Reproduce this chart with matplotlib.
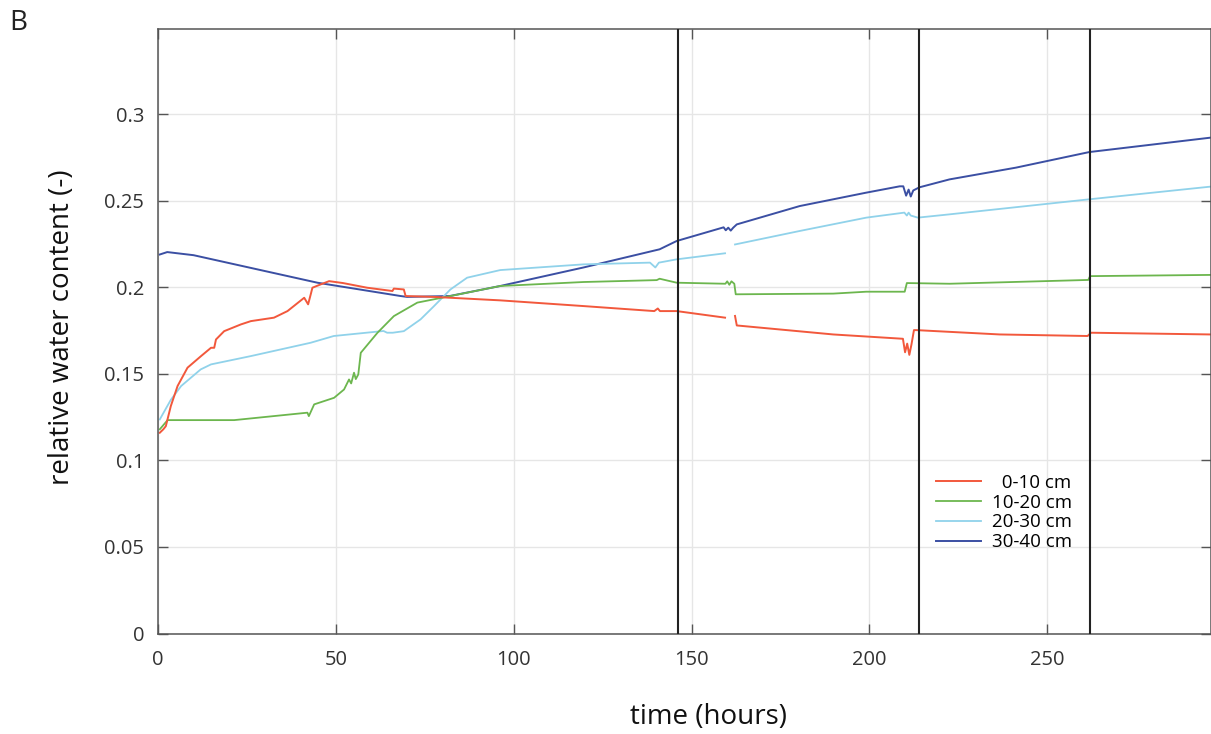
import numpy as np
from matplotlib import pyplot as plt

plt.rcParams["font.family"] = ["Open Sans", "DejaVu Sans"]

nan = np.nan

# time (hours) and relative water content
t_0_10 = [0.5, 1.5, 2.2, 3.6, 5.5, 8.3, 12.1, 14.9, 15.8, 16.3, 18.6, 23.3, 26.1, 32.6,
          36.4, 41.1, 42.2, 43.0, 43.4, 45.7, 48.1, 52.0, 58.8, 65.9, 66.3, 69.1, 69.6,
          77.5, 96.2, 119.6, 139.5, 140.5, 141.1, 145.8, 159.4, nan, 162.2, 162.7, 189.8,
          209.4, 210.0, 210.6, 211.2, 211.8, 212.5, 213.2, 236.6, 261.3, 262.3, 295.8]
w_0_10 = [0.116, 0.118, 0.1198, 0.1314, 0.143, 0.1536, 0.1603, 0.1651, 0.1651, 0.1699,
          0.1747, 0.1786, 0.1805, 0.1825, 0.1863, 0.194, 0.1902, 0.1965, 0.1998, 0.2017,
          0.2036, 0.2025, 0.1998, 0.1979, 0.1993, 0.1988, 0.195, 0.1945, 0.1925, 0.1892,
          0.1863, 0.1878, 0.1863, 0.1863, 0.1825, nan, 0.1835, 0.178, 0.1728, 0.1703,
          0.1625, 0.1675, 0.161, 0.167, 0.1753, 0.1753, 0.1728, 0.1719, 0.1738, 0.1728]

t_10_20 = [0.5, 2.7, 21.4, 42.0, 42.4, 43.9, 49.5, 52.3, 53.7, 54.3, 55.1, 55.6, 56.3,
           57.0, 61.7, 66.3, 72.9, 82.2, 96.2, 119.6, 140.2, 141.0, 145.8, 159.5, 160.0,
           160.6, 161.2, 162.0, 162.4, 189.8, 199.1, 209.9, 210.5, 222.5, 261.5, 262.0,
           295.8]
w_10_20 = [0.118, 0.1233, 0.1233, 0.1276, 0.1256, 0.1324, 0.1362, 0.141, 0.1468, 0.1445,
           0.1507, 0.147, 0.1497, 0.1622, 0.1738, 0.1834, 0.1912, 0.195, 0.2008, 0.2031,
           0.2042, 0.205, 0.2027, 0.2021, 0.2035, 0.2015, 0.2035, 0.2021, 0.196, 0.1964,
           0.1975, 0.1975, 0.2025, 0.2021, 0.2043, 0.2065, 0.2072]

t_20_30 = [0.5, 3.6, 6.5, 12.0, 14.9, 26.1, 42.9, 49.4, 63.4, 64.4, 66.0, 69.1, 73.8,
           77.5, 82.2, 86.9, 96.2, 119.6, 138.3, 139.8, 140.8, 145.8, 159.4, nan, 162.2,
           180.4, 199.1, 209.8, 210.5, 211.0, 211.6, 213.6, 222.5, 261.8, 295.8]
w_20_30 = [0.1237, 0.135, 0.143, 0.1526, 0.1555, 0.1603, 0.168, 0.1719, 0.1748, 0.1738,
           0.1738, 0.1747, 0.1815, 0.189, 0.1988, 0.2056, 0.21, 0.2133, 0.2143, 0.2115,
           0.2143, 0.2162, 0.2197, nan, 0.2248, 0.2326, 0.2403, 0.2432, 0.2415, 0.2432,
           0.2415, 0.2403, 0.2422, 0.2509, 0.2582]

t_30_40 = [0.5, 2.6, 10.0, 44.8, 68.2, 70.0, 82.0, 96.2, 119.6, 141.0, 145.8, 159.0,
           159.6, 160.3, 161.0, 161.7, 162.7, 180.4, 199.0, 208.5, 209.5, 210.3, 211.0,
           211.6, 212.3, 214.0, 222.5, 241.2, 261.8, 295.8]
w_30_40 = [0.219, 0.2204, 0.2186, 0.2027, 0.195, 0.1945, 0.195, 0.2008, 0.2115, 0.222,
           0.2268, 0.2347, 0.233, 0.2345, 0.2328, 0.2345, 0.2364, 0.247, 0.2547, 0.2584,
           0.2584, 0.253, 0.2565, 0.2525, 0.256, 0.2578, 0.2624, 0.2692, 0.2782, 0.2865]

events = [146.2, 213.9, 261.9]
x_ticks = [0, 50, 100, 150, 200, 250]
y_ticks = [0, 0.05, 0.1, 0.15, 0.2, 0.25, 0.3]
y_ticklabels = ["0", "0.05", "0.1", "0.15", "0.2", "0.25", "0.3"]

W, H = 1211, 734
fig = plt.figure(figsize=(W / 100, H / 100), dpi=100)
ax = fig.add_axes([158 / W, 1 - 633.5 / H, (W - 158) / W, (633.5 - 29) / H])

l4, = ax.plot(t_30_40, w_30_40, color="#3b4fa3", lw=1.4, label="30-40 cm")
l3, = ax.plot(t_20_30, w_20_30, color="#90d2ea", lw=1.3, label="20-30 cm")
l2, = ax.plot(t_10_20, w_10_20, color="#6cb64e", lw=1.3, label="10-20 cm")
l1, = ax.plot(t_0_10, w_0_10, color="#f2583c", lw=1.4, label="  0-10 cm")

for e in events:
    ax.axvline(e, color="#222222", lw=1.5, zorder=5)

ax.set_xlim(0, 296)
ax.set_ylim(0, 0.3493)
ax.set_xticks(x_ticks)
ax.set_yticks(y_ticks)
ax.set_yticklabels(y_ticklabels)
ax.grid(True, color="#e6e6e6", lw=1)
ax.set_axisbelow(True)
ax.tick_params(direction="in", length=7, width=1, color="#555555", labelcolor="#333333",
               labelsize=14.5, top=True, right=True)
ax.tick_params(axis="x", pad=12)
ax.tick_params(axis="y", pad=10)
for s in ax.spines.values():
    s.set_color("#555555")
    s.set_linewidth(1.1)

leg = ax.legend(handles=[l1, l2, l3, l4], loc="upper left",
                bbox_to_anchor=(936 / W, 1 - 474 / H), bbox_transform=fig.transFigure,
                frameon=False, fontsize=13.5, handlelength=2.4, handletextpad=0.6,
                labelspacing=0.09, borderpad=0, borderaxespad=0)

fig.text(9 / W, 1 - 23 / H, "B", fontsize=20, ha="left", va="center", color="#222222")
fig.text(708 / W, 1 - 717 / H, "time (hours)", fontsize=20, ha="center", va="center",
         color="#111111")
fig.text(62 / W, 1 - 327 / H, "relative water content (-)", fontsize=20, rotation=90,
         ha="center", va="center", color="#111111")

fig.savefig("out.png", dpi=100)
